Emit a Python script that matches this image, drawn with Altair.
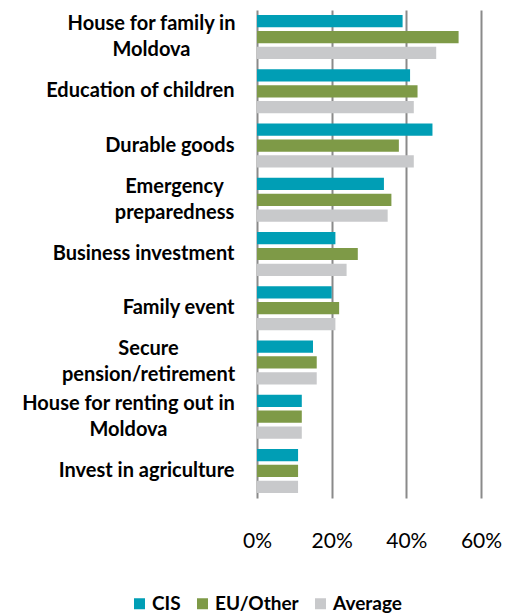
import altair as alt
import pandas as pd

categories = [
    "House for family in Moldova",
    "Education of children",
    "Durable goods",
    "Emergency preparedness",
    "Business investment",
    "Family event",
    "Secure pension/retirement",
    "House for renting out in Moldova",
    "Invest in agriculture",
]
label_lines = {
    "House for family in Moldova": ["House for family in", "Moldova"],
    "Emergency preparedness": ["Emergency", "preparedness"],
    "Secure pension/retirement": ["Secure", "pension/retirement"],
    "House for renting out in Moldova": ["House for renting out in", "Moldova"],
}
# half-width of the two-line label blocks (they are centred lines, block right-aligned)
label_pad = {
    "House for family in Moldova": 106,
    "Emergency preparedness": 83,
    "Secure pension/retirement": 109,
    "House for renting out in Moldova": 129,
}
series = ["CIS", "EU/Other", "Average"]
cis = [39, 41, 47, 34, 21, 20, 15, 12, 11]
eu_other = [54, 43, 38, 36, 27, 22, 16, 12, 11]
average = [48, 42, 42, 35, 24, 21, 16, 12, 11]
colors = ["#009EB5", "#7E9A47", "#C8C9CB"]
x_ticks = [0, 20, 40, 60]

rows = []
for i, c in enumerate(categories):
    for s, vals in zip(series, [cis, eu_other, average]):
        rows.append({"category": c, "series": s, "value": vals[i]})
df = pd.DataFrame(rows)


def js(s):
    return "'" + s.replace("\\", "\\\\").replace("'", "\\'") + "'"


expr = "datum.label"
for k, lines in reversed(list(label_lines.items())):
    arr = "[" + ", ".join(js(l) for l in lines) + "]"
    expr = f"datum.label == {js(k)} ? {arr} : ({expr})"

two_line_test = "indexof([" + ", ".join(js(k) for k in label_lines) + "], datum.value) >= 0"

FONT = "Lato"

chart = alt.Chart(df).mark_bar().encode(
    y=alt.Y(
        "category:N",
        sort=categories,
        scale=alt.Scale(paddingInner=0.188, paddingOuter=0.092),
        axis=alt.Axis(
            title=None,
            labelExpr=expr,
            labelFont=FONT,
            labelFontWeight="bold",
            labelFontSize=20,
            labelColor="#000000",
            labelPadding={
                "condition": [
                    {"test": f"datum.value == {js(k)}", "value": v}
                    for k, v in label_pad.items()
                ],
                "value": 23,
            },
            labelAlign={
                "condition": {"test": two_line_test, "value": "center"},
                "value": "right",
            },
            labelOffset={
                "condition": {"test": two_line_test, "value": -13},
                "value": 0,
            },
            labelLineHeight=26,
            labelLimit=400,
            ticks=False,
            domain=False,
            grid=False,
        ),
    ),
    yOffset=alt.YOffset(
        "series:N", sort=series, scale=alt.Scale(paddingInner=0.23, paddingOuter=0)
    ),
    x=alt.X(
        "value:Q",
        scale=alt.Scale(domain=[0, 60], nice=False),
        axis=alt.Axis(
            values=x_ticks,
            title=None,
            labelExpr="datum.value + '%'",
            labelFlush=False,
            grid=True,
            gridColor="#8a8a8a",
            gridWidth=2,
            domain=False,
            ticks=False,
            labelFont=FONT,
            labelFontSize=21,
            labelColor="#000000",
            labelPadding=32,
        ),
    ),
    color=alt.Color(
        "series:N",
        sort=series,
        scale=alt.Scale(domain=series, range=colors),
        legend=alt.Legend(
            title=None,
            orient="none",
            legendX=-127,
            legendY=584,
            direction="horizontal",
            symbolType="square",
            symbolSize=121,
            symbolStrokeWidth=0,
            labelFont=FONT,
            labelFontWeight="bold",
            labelFontSize=19,
            labelColor="#000000",
            labelOffset=3,
            columnPadding=12,
        ),
    ),
).properties(
    width=224,
    height=488,
    autosize=alt.AutoSizeParams(type="none"),
    padding={"left": 257, "top": 10, "right": 31, "bottom": 115},
).configure_view(stroke=None)

chart.save("out.html", embed_options={"renderer": "svg", "actions": False})
